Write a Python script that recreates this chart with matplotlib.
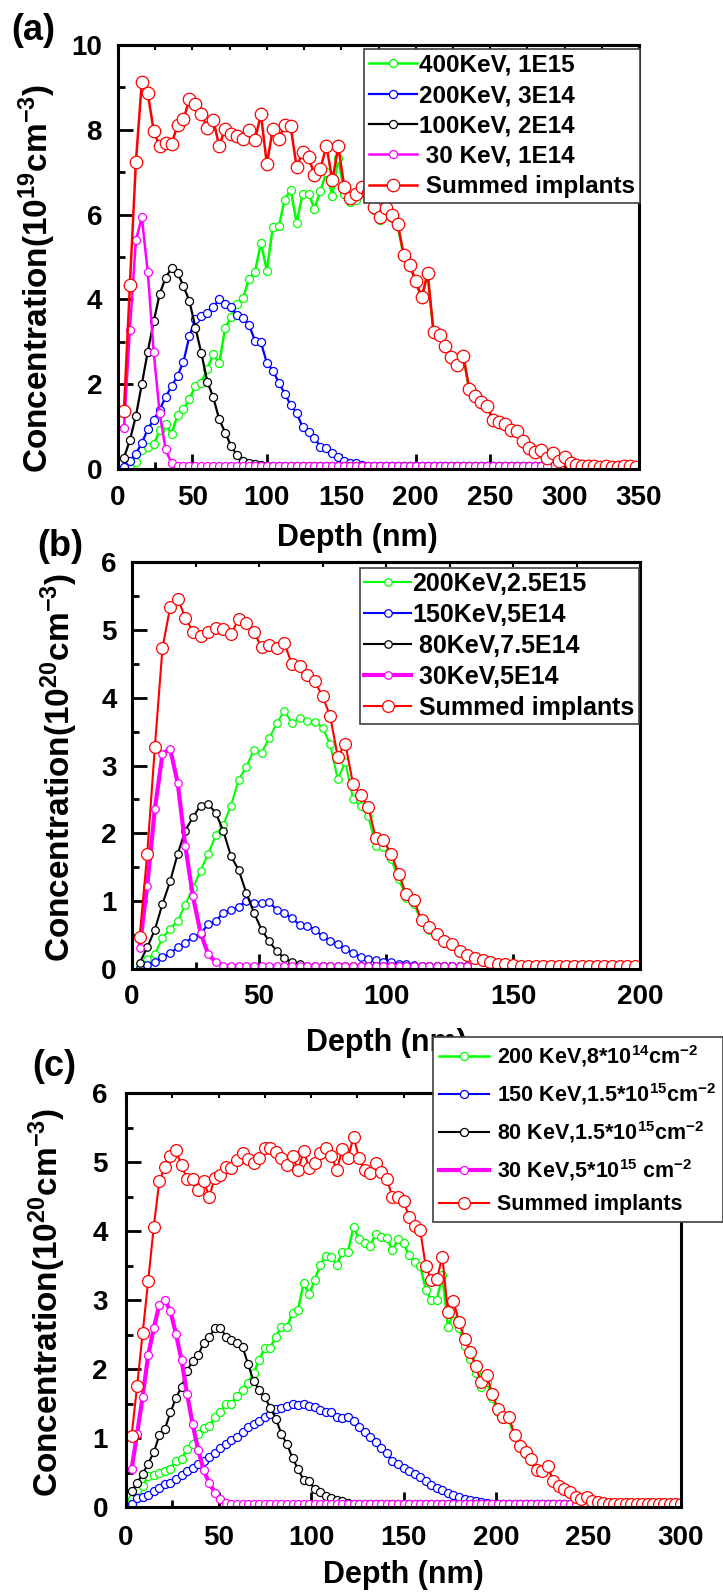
import matplotlib
matplotlib.use('Agg')
import matplotlib.pyplot as plt
from matplotlib.ticker import MultipleLocator

plt.rcParams['font.family'] = ['Liberation Sans', 'DejaVu Sans']
plt.rcParams['font.weight'] = 'bold'
plt.rcParams['axes.labelweight'] = 'bold'
plt.rcParams['mathtext.fontset'] = 'custom'
plt.rcParams['mathtext.rm'] = 'Liberation Sans:bold'
plt.rcParams['mathtext.bf'] = 'Liberation Sans:bold'
plt.rcParams['mathtext.it'] = 'Liberation Sans:italic:bold'
plt.rcParams['mathtext.default'] = 'bf'

# ---- (a) 1E19 scale, 4 nm bins ----
depth_a = [4, 8, 12, 16, 20, 24, 28, 32, 36, 40, 44, 48, 52, 56, 60, 64, 68, 72, 76, 80,
           84, 88, 92, 96, 100, 104, 108, 112, 116, 120, 124, 128, 132, 136, 140, 144, 148,
           152, 156, 160, 164, 168, 172, 176, 180, 184, 188, 192, 196, 200, 204, 208, 212,
           216, 220, 224, 228, 232, 236, 240, 244, 248, 252, 256, 260, 264, 268, 272, 276,
           280, 284, 288, 292, 296, 300, 304, 308, 312, 316, 320, 324, 328, 332, 336, 340,
           344, 348]
green_a = [0.03, 0.10, 0.17, 0.45, 0.52, 0.58, 0.91, 1.06, 0.82, 1.28,
           1.41, 1.65, 1.96, 2.04, 2.36, 2.71, 2.49, 3.33, 3.59, 3.89,
           4.03, 4.48, 4.64, 5.33, 4.68, 5.71, 5.72, 6.35, 6.59, 5.81,
           6.48, 6.49, 6.14, 6.56, 7.00, 6.45, 7.34, 6.49, 6.30, 6.35,
           6.50, 6.40, 6.10, 5.88, 6.08, 5.92, 5.72, 5.00, 4.79, 4.41,
           4.02, 4.59, 3.20, 3.13, 2.89, 2.61, 2.44, 2.65, 1.86, 1.71,
           1.57, 1.47, 1.13, 1.10, 1.05, 0.89, 0.88, 0.64, 0.47, 0.39,
           0.42, 0.25, 0.35, 0.17, 0.26, 0.13, 0.08, 0.06, 0.05, 0.04,
           0.03, 0.05, 0.03, 0.03, 0.05, 0.04, 0.03]
blue_a = [0.05, 0.20, 0.36, 0.61, 0.94, 1.16, 1.40, 1.70, 1.95, 2.20,
          2.53, 3.14, 3.54, 3.62, 3.68, 3.81, 4.01, 3.88, 3.81, 3.63,
          3.55, 3.40, 3.03, 2.99, 2.50, 2.32, 2.04, 1.78, 1.51, 1.32,
          0.99, 0.88, 0.74, 0.52, 0.50, 0.37, 0.29, 0.20, 0.15, 0.13,
          0.09, 0.08, 0.07] + [0.07] * 29
black_a = [0.27, 0.68, 1.25, 2.00, 2.77, 3.48, 4.13, 4.51, 4.74, 4.63,
           4.31, 3.96, 3.33, 2.73, 2.06, 1.69, 1.17, 0.86, 0.54, 0.32,
           0.20, 0.15, 0.11, 0.09, 0.07] + [0.07] * 47
magenta_a = [0.96, 3.28, 5.39, 5.94, 4.64, 2.75, 1.31, 0.46, 0.13] + [0.07] * 63
red_a = [1.36, 4.35, 7.23, 9.13, 8.86, 7.97, 7.61, 7.68, 7.66, 8.12,
         8.25, 8.72, 8.60, 8.37, 8.05, 8.23, 7.62, 8.03, 7.91, 7.85,
         7.79, 7.99, 7.75, 8.37, 7.19, 8.01, 7.78, 8.12, 8.08, 7.12,
         7.48, 7.36, 6.93, 7.08, 7.62, 6.81, 7.61, 6.65, 6.40, 6.49,
         6.65, 6.50, 6.18, 5.94, 6.15, 5.98, 5.77, 5.04, 4.82, 4.44,
         4.05, 4.62, 3.22, 3.15, 2.91, 2.63, 2.46, 2.67, 1.88, 1.73,
         1.59, 1.49, 1.15, 1.12, 1.07, 0.91, 0.90, 0.66, 0.49, 0.41,
         0.44, 0.27, 0.37, 0.19, 0.28, 0.15, 0.10, 0.08, 0.07, 0.06,
         0.05, 0.07, 0.05, 0.05, 0.07, 0.06, 0.05]
labels_a = ['400KeV, 1E15', '200KeV, 3E14', '100KeV, 2E14', ' 30 KeV, 1E14', ' Summed implants']

# ---- (b) 1E20 scale, 3 nm bins ----
depth_b = [3, 6, 9, 12, 15, 18, 21, 24, 27, 30, 33, 36, 39, 42, 45, 48, 51, 54, 57, 60,
           63, 66, 69, 72, 75, 78, 81, 84, 87, 90, 93, 96, 99, 102, 105, 108, 111, 114,
           117, 120, 123, 126, 129, 132, 135, 138, 141, 144, 147, 150, 153, 156, 159, 162,
           165, 168, 171, 174, 177, 180, 183, 186, 189, 192, 195, 198]
green_b = [0.03, 0.15, 0.22, 0.46, 0.59, 0.71, 0.95, 1.20, 1.45, 1.70,
           1.97, 2.13, 2.41, 2.79, 2.98, 3.23, 3.19, 3.40, 3.62, 3.81,
           3.62, 3.70, 3.66, 3.64, 3.56, 3.31, 2.80, 3.05, 2.51, 2.40,
           2.25, 1.81, 1.80, 1.62, 1.33, 1.05, 0.96, 0.69, 0.58, 0.49,
           0.38, 0.34, 0.24, 0.19, 0.15, 0.12, 0.09, 0.07, 0.06, 0.05] + [0.04] * 16
blue_b = [0.02, 0.06, 0.11, 0.17, 0.23, 0.32, 0.39, 0.47, 0.52, 0.66,
          0.71, 0.83, 0.87, 0.92, 1.00, 0.97, 0.98, 0.99, 0.87, 0.82,
          0.75, 0.65, 0.64, 0.58, 0.48, 0.42, 0.37, 0.29, 0.24, 0.18,
          0.15, 0.13, 0.11, 0.10, 0.08, 0.07, 0.06, 0.05] + [0.04] * 6
black_b = [0.09, 0.32, 0.58, 0.96, 1.29, 1.70, 2.04, 2.24, 2.41, 2.43,
           2.30, 2.03, 1.66, 1.46, 1.12, 0.83, 0.58, 0.41, 0.26, 0.16,
           0.10, 0.07, 0.05] + [0.04] * 21
magenta_b = [0.31, 1.23, 2.36, 3.17, 3.25, 2.74, 1.81, 1.07, 0.53, 0.22, 0.10, 0.05] + [0.04] * 32
red_b = [0.47, 1.70, 3.27, 4.73, 5.33, 5.46, 5.18, 4.97, 4.91, 4.97,
         5.03, 5.01, 4.94, 5.16, 5.10, 4.97, 4.74, 4.78, 4.73, 4.80,
         4.49, 4.46, 4.34, 4.24, 4.02, 3.73, 3.13, 3.32, 2.73, 2.57,
         2.39, 1.93, 1.90, 1.70, 1.40, 1.10, 1.01, 0.72, 0.62, 0.52,
         0.41, 0.37, 0.26, 0.20, 0.16, 0.13, 0.10, 0.08, 0.07, 0.06] + [0.05] * 16
labels_b = ['200KeV,2.5E15', '150KeV,5E14', ' 80KeV,7.5E14', ' 30KeV,5E14', ' Summed implants']

# ---- (c) 1E20 scale, 3 nm bins ----
depth_c = [3, 6, 9, 12, 15, 18, 21, 24, 27, 30, 33, 36, 39, 42, 45, 48, 51, 54, 57, 60,
           63, 66, 69, 72, 75, 78, 81, 84, 87, 90, 93, 96, 99, 102, 105, 108, 111, 114,
           117, 120, 123, 126, 129, 132, 135, 138, 141, 144, 147, 150, 153, 156, 159, 162,
           165, 168, 171, 174, 177, 180, 183, 186, 189, 192, 195, 198, 201, 204, 207, 210,
           213, 216, 219, 222, 225, 228, 231, 234, 237, 240, 243, 246, 249, 252, 255, 258,
           261, 264, 267, 270, 273, 276, 279, 282, 285, 288, 291, 294, 297, 300]
green_c = [0.12, 0.25, 0.30, 0.45, 0.47, 0.50, 0.52, 0.55, 0.67, 0.70,
           0.84, 0.92, 1.06, 1.15, 1.17, 1.31, 1.37, 1.50, 1.50, 1.61,
           1.70, 1.80, 1.94, 2.13, 2.31, 2.31, 2.47, 2.61, 2.61, 2.81,
           2.86, 3.24, 3.08, 3.29, 3.51, 3.64, 3.63, 3.51, 3.70, 3.70,
           4.06, 3.89, 3.82, 3.78, 3.96, 3.92, 3.90, 3.72, 3.88, 3.82,
           3.65, 3.55, 3.50, 3.15, 3.00, 3.00, 3.36, 2.61, 2.81, 2.59,
           2.34, 2.15, 1.94, 1.74, 1.81, 1.58, 1.37, 1.27, 1.27, 1.01,
           0.86, 0.77, 0.67, 0.52, 0.51, 0.59, 0.36, 0.30, 0.25, 0.21,
           0.13, 0.10, 0.14, 0.08, 0.06, 0.05] + [0.04] * 14
blue_c = [0.05, 0.13, 0.15, 0.17, 0.23, 0.27, 0.33, 0.35, 0.40, 0.47,
          0.52, 0.57, 0.62, 0.66, 0.72, 0.78, 0.85, 0.91, 0.97, 1.02,
          1.08, 1.16, 1.21, 1.25, 1.30, 1.35, 1.42, 1.43, 1.46, 1.49,
          1.48, 1.49, 1.46, 1.45, 1.41, 1.37, 1.37, 1.30, 1.29, 1.31,
          1.25, 1.16, 1.08, 1.02, 0.94, 0.86, 0.78, 0.66, 0.62, 0.57,
          0.52, 0.48, 0.43, 0.37, 0.32, 0.28, 0.25, 0.21, 0.17, 0.14,
          0.12, 0.10, 0.08, 0.07, 0.06] + [0.05] * 16
black_c = [0.23, 0.35, 0.48, 0.63, 0.79, 1.04, 1.13, 1.37, 1.58, 1.74,
           1.97, 2.12, 2.20, 2.38, 2.46, 2.59, 2.60, 2.47, 2.42, 2.37,
           2.32, 2.07, 1.82, 1.70, 1.59, 1.44, 1.28, 1.06, 0.91, 0.71,
           0.55, 0.39, 0.37, 0.26, 0.22, 0.16, 0.13, 0.10, 0.09, 0.06] + [0.05] * 41
magenta_c = [0.55, 1.06, 1.60, 2.20, 2.59, 2.93, 3.00, 2.84, 2.51, 2.13,
             1.64, 1.20, 0.83, 0.53, 0.35, 0.21, 0.11, 0.06] + [0.05] * 63
red_c = [1.03, 1.75, 2.52, 3.28, 4.06, 4.72, 4.93, 5.08, 5.17, 4.95,
         4.76, 4.75, 4.60, 4.72, 4.50, 4.77, 4.81, 4.93, 4.92, 5.03,
         5.13, 5.05, 4.98, 5.06, 5.21, 5.20, 5.14, 5.06, 4.95, 5.08,
         4.88, 5.16, 4.92, 4.99, 5.13, 5.21, 5.08, 4.89, 5.19, 5.06,
         5.36, 5.06, 4.88, 4.84, 4.98, 4.85, 4.75, 4.50, 4.50, 4.43,
         4.21, 4.07, 4.02, 3.49, 3.29, 3.30, 3.63, 2.82, 2.98, 2.68,
         2.44, 2.25, 2.04, 1.81, 1.91, 1.64, 1.42, 1.31, 1.31, 1.05,
         0.89, 0.79, 0.69, 0.53, 0.52, 0.60, 0.37, 0.31, 0.26, 0.22,
         0.14, 0.11, 0.15, 0.09, 0.07, 0.06] + [0.05] * 14
labels_c = ['200 KeV,8*10$^{14}$cm$^{-2}$', '150 KeV,1.5*10$^{15}$cm$^{-2}$',
            '80 KeV,1.5*10$^{15}$cm$^{-2}$', '30 KeV,5*10$^{15}$ cm$^{-2}$', 'Summed implants']

colors = ['#00ff00', '#0000ff', 'black', '#ff00ff', '#ff0000']

W, H = 723, 1594
fig = plt.figure(figsize=(W / 100, H / 100), dpi=100)


def add_axes(left, top, right, bottom):
    return fig.add_axes([left / W, 1 - bottom / H, (right - left) / W, (bottom - top) / H])


def draw_panel(ax, depth, series, labels, widths, ms_small, ms_big):
    for y, lab, c, lw in zip(series, labels, colors, widths):
        ms = ms_big if c == '#ff0000' else ms_small
        ax.plot(depth[:len(y)], y, color=c, lw=lw, marker='o', ms=ms,
                mfc='white', mec=c, mew=0.9, label=lab)


def style_axes(ax, xmax, ymax, ymajor, yminor, pad):
    ax.set_xlim(0, xmax)
    ax.set_ylim(0, ymax)
    ax.xaxis.set_major_locator(MultipleLocator(50))
    ax.xaxis.set_minor_locator(MultipleLocator(25))
    ax.yaxis.set_major_locator(MultipleLocator(ymajor))
    ax.yaxis.set_minor_locator(MultipleLocator(yminor))
    ax.tick_params(which='major', direction='in', length=10.5, width=2, labelsize=20, pad=pad)
    ax.tick_params(which='minor', direction='in', length=5, width=2)
    for s in ax.spines.values():
        s.set_linewidth(2.2)
    top = ax.secondary_xaxis('top')
    top.xaxis.set_major_locator(MultipleLocator(50))
    top.xaxis.set_minor_locator(MultipleLocator(25))
    top.tick_params(which='both', direction='in', length=3.5, width=1.5, labeltop=False)
    top.spines['top'].set_linewidth(2.2)


def add_legend(ax, x0, y0, size, hlen, tpad, bpad, lspace):
    leg = ax.legend(loc='upper left', bbox_to_anchor=(x0 / W, 1 - y0 / H),
                    bbox_transform=fig.transFigure, borderaxespad=0,
                    prop={'size': size, 'weight': 'bold'}, handlelength=hlen,
                    handletextpad=tpad, borderpad=bpad, labelspacing=lspace,
                    fancybox=False, framealpha=1, edgecolor='#404040')
    leg.get_frame().set_linewidth(1.2)
    return leg


# (a)
ax_a = add_axes(118, 45, 639, 469)
draw_panel(ax_a, depth_a, [green_a, blue_a, black_a, magenta_a, red_a], labels_a,
           [1.8, 1.6, 1.6, 1.8, 1.8], 5.8, 9)
style_axes(ax_a, 350, 10, 2, 1, 11.5)
ax_a.set_xlabel('Depth (nm)', fontsize=22)
ax_a.xaxis.set_label_coords(0.46, -0.127)
ax_a.set_ylabel('Concentration(10$^{19}$cm$^{-3}$)', fontsize=24)
ax_a.yaxis.set_label_coords(-0.115, 0.45)
add_legend(ax_a, 364, 49, 17.5, 2.0, 0.05, 0.2, 0.3)

# (b)
ax_b = add_axes(132, 562, 640, 969)
draw_panel(ax_b, depth_b, [green_b, blue_b, black_b, magenta_b, red_b], labels_b,
           [1.5, 1.5, 1.5, 3.0, 1.5], 5.4, 8.5)
style_axes(ax_b, 200, 6, 1, 0.5, 11)
ax_b.set_xlabel('Depth (nm)', fontsize=22)
ax_b.xaxis.set_label_coords(0.5, -0.145)
ax_b.set_ylabel('Concentration(10$^{20}$cm$^{-3}$)', fontsize=24)
ax_b.yaxis.set_label_coords(-0.102, 0.494)
add_legend(ax_b, 360, 568, 18, 1.9, 0.05, 0.15, 0.28)

# (c)
ax_c = add_axes(126, 1093, 681, 1507)
draw_panel(ax_c, depth_c, [green_c, blue_c, black_c, magenta_c, red_c], labels_c,
           [1.8, 1.5, 1.5, 3.0, 1.5], 5.8, 8.5)
style_axes(ax_c, 300, 6, 1, 0.5, 13)
ax_c.set_xlabel('Depth (nm)', fontsize=22)
ax_c.xaxis.set_label_coords(0.5, -0.128)
ax_c.set_ylabel('Concentration(10$^{20}$cm$^{-3}$)', fontsize=24)
ax_c.yaxis.set_label_coords(-0.105, 0.493)
add_legend(ax_c, 433, 1037, 15.5, 2.3, 0.37, 0.3, 0.55)

# panel tags
fig.text(33 / W, 1 - 30 / H, '(a)', fontsize=26, ha='center', va='center')
fig.text(60 / W, 1 - 546 / H, '(b)', fontsize=26, ha='center', va='center')
fig.text(54 / W, 1 - 1066 / H, '(c)', fontsize=26, ha='center', va='center')

fig.savefig('out.png', dpi=100)
